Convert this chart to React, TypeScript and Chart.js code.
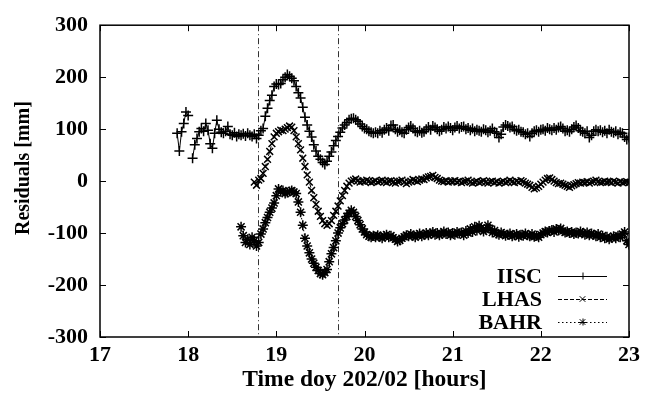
import React, { useEffect, useRef } from 'react';
import { Chart, registerables } from 'chart.js';

Chart.register(...registerables);

const FONT = '"Liberation Serif", "Times New Roman", serif';

// axes
const X_MIN = 17;
const X_MAX = 23;
const Y_MIN = -300;
const Y_MAX = 300;
const X_TICKS = [17, 18, 19, 20, 21, 22, 23];
const Y_TICKS = [-300, -200, -100, 0, 100, 200, 300];
const MARKER_TIMES = [18.79, 19.7];
const X_TITLE = 'Time doy 202/02 [hours]';
const Y_TITLE = 'Residuals [mm]';

// sampling: one value every STEP hours starting at each series' start time
const STEP = 0.025;
const IISC_START = 17.875;
const LHAS_START = 18.75;
const BAHR_START = 18.6;

const SERIES_NAMES = ['IISC', 'LHAS', 'BAHR'];

const IISC_VALUES: (number | null)[] = [
  92, 58, 95, 111, 133, 126, null, 44, 70, 82,
  95, 101, 96, 111, 98, 72, 63, 92, 117, 100,
  94, 92, 96, 105, 90, 88, 93, 86, 90, 88,
  91, 87, 92, 88, 86, 90, 82, 88, 97, 101,
  125, 140, 155, 165, 182, 187, 186, 188, 195, 200,
  205, 202, 198, 193, 182, 170, 160, 142, 123, 108,
  96, 85, 70, 58, 48, 42, 36, 32, 38, 48,
  56, 68, 78, 86, 94, 102, 108, 113, 118, 120,
  121, 118, 115, 110, 105, 101, 100, 96, 94, 92,
  94, 92, 97, 93, 99, 102, 97, 107, 108, 100,
  95, 98, 94, 92, 99, 103, 106, 101, 96, 94,
  97, 93, 95, 100, 104, 99, 106, 103, 100, 96,
  99, 104, 101, 105, 102, 98, 103, 106, 101, 104,
  105, 100, 102, 98, 101, 96, 99, 97, 95, 100,
  98, 94, 97, 101, 95, 92, 84, 90, 104, 108,
  106, 103, 105, 100, 97, 99, 95, 94, 90, 92,
  86, 92, 96, 98, 95, 99, 100, 97, 102, 100,
  98, 102, 99, 103, 105, 101, 96, 98, 95, 100,
  104, 107, 102, 97, 95, 92, 96, 84, 88, 96,
  99, 96, 98, 94, 97, 92, 99, 95, 93, 96,
  90, 94, 92, 85, 80, 84,
];

const LHAS_VALUES: number[] = [
  -2, -8, 2, 5, 15, 28, 42, 57, 72, 85,
  92, 95, 98, 97, 100, 103, 106, 104, 97, 85,
  72, 60, 44, 28, 12, -2, -18, -32, -45, -58,
  -68, -76, -82, -85, -82, -76, -66, -58, -48, -38,
  -28, -18, -10, -4, 0, 2, 4, 1, -2, 0,
  -1, 2, 0, -3, -1, 1, -2, 0, 2, -1,
  -3, 0, 1, -2, -4, -1, 0, 2, -2, -5,
  -2, 0, 3, 1, -1, 2, 4, 3, 6, 8,
  9, 11, 7, 5, 2, 0, -1, 1, -2, 0,
  -1, 1, -2, 0, -3, -1, 0, 2, -2, -4,
  -2, 0, -3, -1, 1, -2, -4, -1, 0, -3,
  -1, -4, -2, 0, -3, -1, 2, -1, -3, 0,
  -2, 1, -1, -4, -6, -8, -12, -15, -13, -10,
  -6, -2, 2, 5, 6, 3, 0, -3, -5, -4,
  -6, -8, -10, -12, -9, -7, -5, -3, -4, -2,
  -3, -1, -4, -2, 0, 2, -1, -3, -2, 0,
  -2, -1, -3, 0, -2, -4, -1, -3, -2, -1,
  -3,
];

const BAHR_VALUES: number[] = [
  -88, -105, -118, -112, -122, -108, -115, -125, -118, -102,
  -92, -80, -70, -60, -52, -42, -28, -15, -20, -18,
  -24, -22, -20, -18, -21, -24, -40, -60, -85, -110,
  -125, -138, -150, -158, -166, -172, -178, -180, -176, -170,
  -155, -140, -128, -115, -100, -90, -82, -75, -68, -62,
  -56, -60, -68, -76, -84, -92, -98, -103, -106, -108,
  -105, -108, -104, -107, -110, -106, -103, -108, -105, -109,
  -112, -116, -114, -110, -107, -104, -106, -102, -105, -108,
  -104, -101, -106, -103, -100, -104, -101, -98, -103, -100,
  -104, -101, -97, -102, -99, -104, -100, -103, -98, -101,
  -99, -104, -96, -100, -92, -98, -88, -95, -86, -90,
  -97, -93, -85, -92, -99, -95, -101, -103, -99, -102,
  -105, -103, -101, -106, -104, -102, -107, -103, -105, -101,
  -104, -106, -102, -107, -105, -108, -103, -100, -97, -99,
  -96, -94, -98, -92, -95, -91, -96, -99, -97, -100,
  -98, -102, -99, -101, -97, -100, -103, -99, -104, -101,
  -103, -106, -102, -108, -105, -110, -107, -112, -109, -106,
  -110, -105, -108, -102, -98, -115, -122,
];

function toPoints(start: number, values: (number | null)[]) {
  return values.map((v, i) => ({ x: start + i * STEP, y: v }));
}

const boxPlugin = {
  id: 'gnuplotBox',
  beforeDatasetsDraw(chart: any) {
    const { ctx, chartArea: a, scales } = chart;
    ctx.save();
    ctx.strokeStyle = '#333';
    ctx.lineWidth = 1;
    ctx.setLineDash([6, 3, 1, 3]);
    MARKER_TIMES.forEach((t) => {
      const x = Math.round(scales.x.getPixelForValue(t)) + 0.5;
      ctx.beginPath();
      ctx.moveTo(x, a.top);
      ctx.lineTo(x, a.bottom);
      ctx.stroke();
    });
    ctx.restore();
  },
  afterDraw(chart: any) {
    const { ctx, chartArea: a, scales } = chart;
    ctx.save();
    ctx.strokeStyle = '#000';
    ctx.lineWidth = 1.5;
    ctx.setLineDash([]);
    ctx.strokeRect(a.left, a.top, a.right - a.left, a.bottom - a.top);
    ctx.lineWidth = 1;
    const TL = 6;
    X_TICKS.forEach((t) => {
      const x = Math.round(scales.x.getPixelForValue(t)) + 0.5;
      ctx.beginPath();
      ctx.moveTo(x, a.bottom);
      ctx.lineTo(x, a.bottom - TL);
      ctx.moveTo(x, a.top);
      ctx.lineTo(x, a.top + TL);
      ctx.stroke();
    });
    Y_TICKS.forEach((v) => {
      const y = Math.round(scales.y.getPixelForValue(v)) + 0.5;
      ctx.beginPath();
      ctx.moveTo(a.left, y);
      ctx.lineTo(a.left + TL, y);
      ctx.moveTo(a.right, y);
      ctx.lineTo(a.right - TL, y);
      ctx.stroke();
    });

    // y axis title (gnuplot places it slightly above the plot centre)
    ctx.save();
    ctx.font = `bold 20px ${FONT}`;
    ctx.fillStyle = '#000';
    ctx.textAlign = 'center';
    ctx.textBaseline = 'middle';
    ctx.translate(24, (a.top + a.bottom) / 2 - 13);
    ctx.rotate(-Math.PI / 2);
    ctx.fillText(Y_TITLE, 0, 0);
    ctx.restore();

    // key (legend) in lower right
    const textRight = a.right - 87;
    const lineL = a.right - 71;
    const lineR = a.right - 22;
    const mid = (lineL + lineR) / 2;
    const rowY = [a.bottom - 61, a.bottom - 38, a.bottom - 15];
    const dashes = [[], [4, 2], [1.5, 2.5]];
    ctx.font = `bold 22px ${FONT}`;
    ctx.fillStyle = '#000';
    ctx.textAlign = 'right';
    ctx.textBaseline = 'middle';
    SERIES_NAMES.forEach((name, i) => {
      const y = rowY[i];
      ctx.fillText(name, textRight, y + 1);
      ctx.lineWidth = 1;
      ctx.setLineDash(dashes[i]);
      ctx.beginPath();
      ctx.moveTo(lineL, y + 0.5);
      ctx.lineTo(lineR, y + 0.5);
      ctx.stroke();
      ctx.setLineDash([]);
      const r = 3.5;
      ctx.beginPath();
      if (i === 0 || i === 2) {
        ctx.moveTo(mid - r, y + 0.5);
        ctx.lineTo(mid + r, y + 0.5);
        ctx.moveTo(mid + 0.5, y - r);
        ctx.lineTo(mid + 0.5, y + r);
      }
      if (i === 1 || i === 2) {
        ctx.moveTo(mid - r * 0.8, y - r * 0.8);
        ctx.lineTo(mid + r * 0.8, y + r * 0.8);
        ctx.moveTo(mid - r * 0.8, y + r * 0.8);
        ctx.lineTo(mid + r * 0.8, y - r * 0.8);
      }
      ctx.stroke();
    });
    ctx.restore();
  },
};

export default function App() {
  const ref = useRef<HTMLCanvasElement>(null);
  useEffect(() => {
    document.body.style.margin = '0';
    const tickFont = { family: FONT, size: 22, weight: 'bold' as const };
    const chart = new Chart(ref.current!, {
      type: 'line',
      data: {
        datasets: [
          {
            label: SERIES_NAMES[0],
            data: toPoints(IISC_START, IISC_VALUES),
            borderColor: '#000',
            backgroundColor: '#000',
            borderWidth: 1,
            pointStyle: 'cross',
            pointRadius: 5,
            pointBorderWidth: 1.5,
            pointBorderColor: '#000',
            spanGaps: false,
          },
          {
            label: SERIES_NAMES[1],
            data: toPoints(LHAS_START, LHAS_VALUES),
            borderColor: '#000',
            backgroundColor: '#000',
            borderWidth: 1,
            borderDash: [4, 2],
            pointStyle: 'crossRot',
            pointRadius: 4.8,
            pointBorderWidth: 1.5,
            pointBorderColor: '#000',
          },
          {
            label: SERIES_NAMES[2],
            data: toPoints(BAHR_START, BAHR_VALUES),
            borderColor: '#000',
            backgroundColor: '#000',
            borderWidth: 1,
            borderDash: [1.5, 2.5],
            pointStyle: 'star',
            pointRadius: 5,
            pointBorderWidth: 1.5,
            pointBorderColor: '#000',
          },
        ],
      },
      options: {
        animation: false,
        responsive: false,
        maintainAspectRatio: false,
        parsing: false as any,
        normalized: true,
        layout: { padding: { top: 20, right: 23, left: 0, bottom: 0 } },
        plugins: {
          legend: { display: false },
          tooltip: { enabled: false },
        },
        elements: { line: { tension: 0 } },
        scales: {
          x: {
            type: 'linear',
            min: X_MIN,
            max: X_MAX,
            afterBuildTicks: (s: any) => {
              s.ticks = X_TICKS.map((v) => ({ value: v }));
            },
            ticks: { color: '#000', font: tickFont, padding: 5, maxRotation: 0, autoSkip: false },
            grid: { display: false, drawTicks: false },
            border: { display: false },
            title: {
              display: true,
              text: X_TITLE,
              color: '#000',
              font: { family: FONT, size: 23.5, weight: 'bold' },
              padding: { top: 0, bottom: 6 },
            },
            afterFit: (s: any) => {
              s.height = 63;
            },
          },
          y: {
            type: 'linear',
            min: Y_MIN,
            max: Y_MAX,
            afterBuildTicks: (s: any) => {
              s.ticks = Y_TICKS.map((v) => ({ value: v }));
            },
            ticks: { color: '#000', font: tickFont, padding: 12, autoSkip: false },
            grid: { display: false, drawTicks: false },
            border: { display: false },
            title: { display: false, text: Y_TITLE },
            afterFit: (s: any) => {
              s.width = 100;
            },
          },
        },
      },
      plugins: [boxPlugin],
    });
    return () => chart.destroy();
  }, []);
  return (
    <div style={{ width: 652, height: 400 }}>
      <canvas ref={ref} width={652} height={400} style={{ display: 'block' }} />
    </div>
  );
}
